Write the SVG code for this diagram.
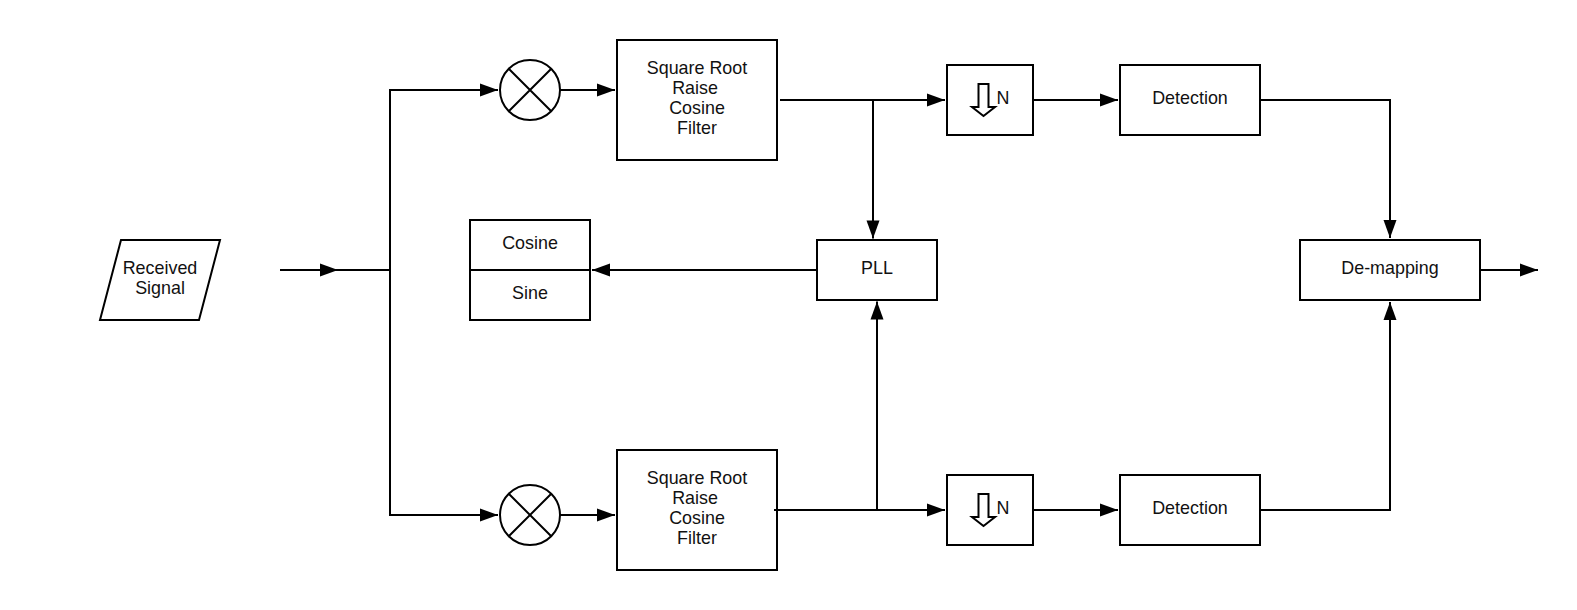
<svg xmlns="http://www.w3.org/2000/svg" width="1577" height="610" viewBox="0 0 1577 610">
<style>
.s{fill:#fff;stroke:#000;stroke-width:2}
.n{fill:none;stroke:#000;stroke-width:2}
.c{fill:none;stroke:#000;stroke-width:2}
text{font-family:"Liberation Sans",Arial,sans-serif;font-size:17.9px;fill:#111;text-anchor:middle}
</style>
<defs>
<marker id="a" markerUnits="userSpaceOnUse" markerWidth="19" markerHeight="14" refX="18" refY="6.500" orient="auto" overflow="visible"><path d="M0 0L18 6.500L0 13Z" fill="#000"/></marker>
</defs>
<rect width="1577" height="610" fill="#fff"/>
<g id="received"><path class="s" d="M121 240H220L199 320H100Z"/><text x="160" y="273.500">Received</text><text x="160" y="294">Signal</text></g>
<g id="mixer-top"><circle class="s" cx="530" cy="90" r="30"/><path class="n" d="M509 69L551 111M551 69L509 111"/></g>
<g id="mixer-bottom"><circle class="s" cx="530" cy="515" r="30"/><path class="n" d="M509 494L551 536M551 494L509 536"/></g>
<g id="filter-top"><rect class="s" x="617" y="40" width="160" height="120"/><text x="697" y="73.500">Square Root</text><text x="695" y="94">Raise</text><text x="697" y="114">Cosine</text><text x="697" y="134">Filter</text></g>
<g id="filter-bottom"><rect class="s" x="617" y="450" width="160" height="120"/><text x="697" y="483.500">Square Root</text><text x="695" y="504">Raise</text><text x="697" y="524">Cosine</text><text x="697" y="544">Filter</text></g>
<g id="osc"><rect class="s" x="470" y="220" width="120" height="100"/><path class="n" d="M470 270H590"/><text x="530" y="248.500">Cosine</text><text x="530" y="298.500">Sine</text></g>
<g id="pll"><rect class="s" x="817" y="240" width="120" height="60"/><text x="877" y="274">PLL</text></g>
<g id="down-top"><rect class="s" x="947" y="65" width="86" height="70"/><path class="s" d="M978.500 84H988.500V107H995L983.500 116L972 107H978.500Z"/><text x="1003" y="103.500">N</text></g>
<g id="down-bottom"><rect class="s" x="947" y="475" width="86" height="70"/><path class="s" d="M978.500 494H988.500V517H995L983.500 526L972 517H978.500Z"/><text x="1003" y="513.500">N</text></g>
<g id="det-top"><rect class="s" x="1120" y="65" width="140" height="70"/><text x="1190" y="103.500">Detection</text></g>
<g id="det-bottom"><rect class="s" x="1120" y="475" width="140" height="70"/><text x="1190" y="513.500">Detection</text></g>
<g id="demap"><rect class="s" x="1300" y="240" width="180" height="60"/><text x="1390" y="274">De-mapping</text></g>
<g id="connectors">
<path class="c" d="M280 270H338" marker-end="url(#a)"/>
<path class="c" d="M332 270H390V90H498" marker-end="url(#a)"/>
<path class="c" d="M390 270V515H498" marker-end="url(#a)"/>
<path class="c" d="M560 90H615" marker-end="url(#a)"/>
<path class="c" d="M560 515H615" marker-end="url(#a)"/>
<path class="c" d="M780 100H945" marker-end="url(#a)"/>
<path class="c" d="M774 510H945" marker-end="url(#a)"/>
<path class="c" d="M873 100V238.500" marker-end="url(#a)"/>
<path class="c" d="M877 510V301.500" marker-end="url(#a)"/>
<path class="c" d="M817 270H592" marker-end="url(#a)"/>
<path class="c" d="M1033 100H1118" marker-end="url(#a)"/>
<path class="c" d="M1033 510H1118" marker-end="url(#a)"/>
<path class="c" d="M1260 100H1390V238" marker-end="url(#a)"/>
<path class="c" d="M1260 510H1390V302" marker-end="url(#a)"/>
<path class="c" d="M1480 270H1538" marker-end="url(#a)"/>
</g>
</svg>
